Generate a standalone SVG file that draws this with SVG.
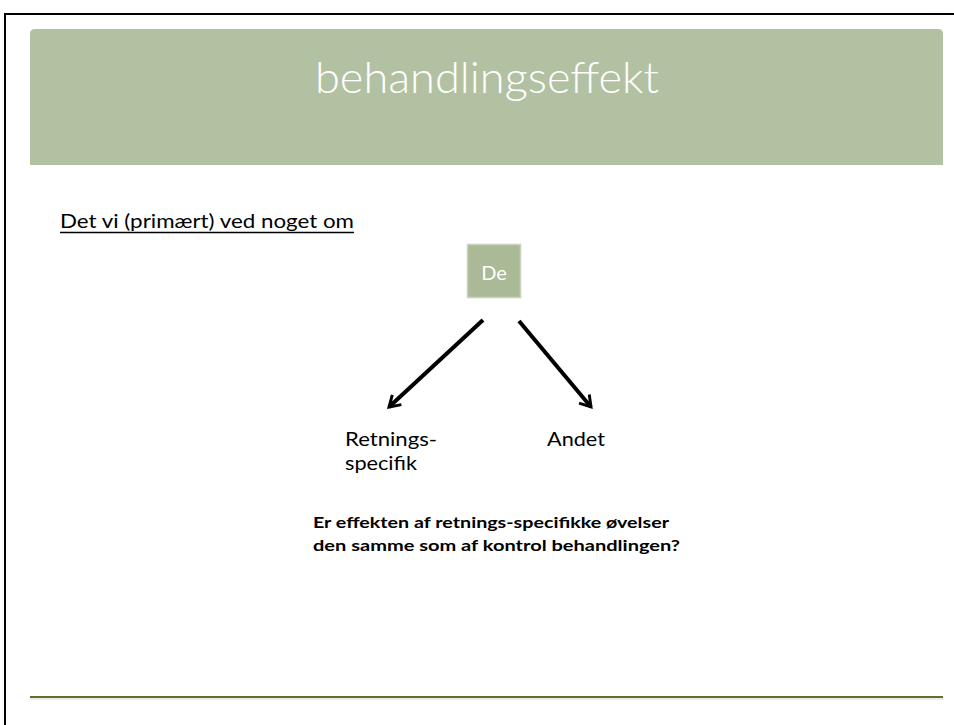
<svg xmlns="http://www.w3.org/2000/svg" width="954" height="725" viewBox="0 0 954 725">
<defs>
<style>
.t{font-family:Lato,"Open Sans","Liberation Sans",sans-serif;}
.body{font-size:20px;fill:#000;}
.conn{stroke:#000;stroke-width:4;fill:none;stroke-linecap:butt;}
</style>
<marker id="ah" viewBox="0 0 12 12" refX="9" refY="6" markerWidth="4" markerHeight="4" orient="auto" markerUnits="strokeWidth">
<path d="M1,1 L9,6 L1,11" fill="none" stroke="#000" stroke-width="2.2"/>
</marker>
</defs>
<rect width="954" height="725" fill="#fff"/>
<path d="M5,725 V14 H954" fill="none" stroke="#000" stroke-width="2"/>
<g id="header">
<path d="M30,165 V34 Q30,29 35,29 H938 Q943,29 943,34 V165 Z" fill="#b3c1a3"/>
<text class="t" x="487" y="93" text-anchor="middle" font-size="43" font-weight="300" fill="#fff" textLength="344" lengthAdjust="spacingAndGlyphs">behandlingseffekt</text>
</g>
<g id="subtitle">
<text class="t body" x="60" y="228" textLength="294" lengthAdjust="spacingAndGlyphs">Det vi (primært) ved noget om</text>
<line x1="60" y1="232.5" x2="354" y2="232.5" stroke="#000" stroke-width="1.5"/>
</g>
<g id="node-de">
<rect x="467.5" y="244.5" width="53" height="53" fill="#aab996" stroke="#c8d2bc" stroke-width="1.5"/>
<text class="t" x="494" y="280" text-anchor="middle" font-size="20" fill="#fff">De</text>
</g>
<g id="connectors">
<line class="conn" x1="483" y1="320" x2="389" y2="407" marker-end="url(#ah)"/>
<line class="conn" x1="519" y1="321" x2="591" y2="407" marker-end="url(#ah)"/>
</g>
<g id="node-retnings">
<text class="t body" x="345" y="446" textLength="92" lengthAdjust="spacingAndGlyphs">Retnings-</text>
<text class="t body" x="345" y="470" textLength="72" lengthAdjust="spacingAndGlyphs">specifik</text>
</g>
<g id="node-andet">
<text class="t body" x="547" y="446" textLength="58" lengthAdjust="spacingAndGlyphs">Andet</text>
</g>
<g id="question">
<text class="t" x="313" y="528" font-size="16" font-weight="bold" fill="#000" textLength="356" lengthAdjust="spacingAndGlyphs">Er effekten af retnings-specifikke øvelser</text>
<text class="t" x="313" y="551" font-size="16" font-weight="bold" fill="#000" textLength="367" lengthAdjust="spacingAndGlyphs">den samme som af kontrol behandlingen?</text>
</g>
<g id="footer">
<line x1="30" y1="697" x2="943" y2="697" stroke="#5f6f2e" stroke-width="2"/>
<line x1="30" y1="699" x2="943" y2="699" stroke="#d5dccb" stroke-width="1"/>
</g>
</svg>
